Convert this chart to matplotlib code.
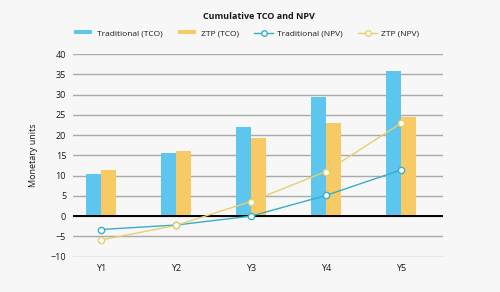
import numpy as np
import matplotlib.pyplot as plt
from matplotlib.lines import Line2D
from matplotlib.patches import Patch

plt.rcParams["font.family"] = ["Open Sans", "DejaVu Sans"]

years = ["Y1", "Y2", "Y3", "Y4", "Y5"]
trad_tco = [10.5, 15.5, 21.9, 29.3, 35.7]
ztp_tco = [11.5, 16.0, 19.3, 22.9, 24.5]
trad_npv = [-3.3, -2.2, 0.0, 5.1, 11.4]
ztp_npv = [-5.9, -2.3, 3.6, 11.0, 22.9]

BLUE = "#5cc6ee"
ORANGE = "#f8ca66"
TEAL = "#3aaec4"
YELLOW = "#e6d06e"
BG = "#f7f7f7"

fig = plt.figure(figsize=(5, 2.92), dpi=100, facecolor=BG)
ax = fig.add_axes([0.146, 0.121, 0.74, 0.694], facecolor=BG)

x = np.arange(len(years))
w = 0.2
ax.bar(x - w / 2, trad_tco, width=w, color=BLUE, zorder=2)
ax.bar(x + w / 2, ztp_tco, width=w, color=ORANGE, zorder=2)

ax.plot(x, trad_npv, color=TEAL, linewidth=1.0, marker="o", markersize=4.5,
        markerfacecolor="white", markeredgewidth=1.0, zorder=4)
ax.plot(x, ztp_npv, color=YELLOW, linewidth=1.0, marker="o", markersize=4.5,
        markerfacecolor="white", markeredgewidth=1.0, zorder=4)

ax.set_ylim(-10, 40)
ax.set_yticks(np.arange(-10, 41, 5))
ax.set_xlim(-0.37, 4.56)
ax.set_xticks(x)
ax.set_xticklabels(years)
ax.grid(axis="y", color="#aaaaaa", linewidth=1.0, zorder=0)
ax.axhline(0, color="black", linewidth=1.4, zorder=3)
for s in ax.spines.values():
    s.set_visible(False)
ax.tick_params(length=0, labelsize=6.5, pad=5, colors="#1a1a1a")
ax.set_ylabel("Monetary units", fontsize=6.5, color="#1a1a1a", labelpad=9)

fig.text(0.518, 0.945, "Cumulative TCO and NPV", ha="center", va="center",
         fontsize=6.5, fontweight="bold", color="#1a1a1a")

handles = [
    Patch(facecolor=BLUE, edgecolor="none"),
    Patch(facecolor=ORANGE, edgecolor="none"),
    Line2D([], [], color=TEAL, linewidth=1.0, marker="o", markersize=4,
           markerfacecolor="white"),
    Line2D([], [], color=YELLOW, linewidth=1.0, marker="o", markersize=4,
           markerfacecolor="white"),
]
labels = ["Traditional (TCO)", "ZTP (TCO)", "Traditional (NPV)", "ZTP (NPV)"]
fig.legend(handles, labels, loc="center", bbox_to_anchor=(0.493, 0.885), ncol=4,
           frameon=False, fontsize=6, handlelength=2.2, handleheight=0.45,
           columnspacing=1.9, handletextpad=0.5, labelcolor="#1a1a1a")

fig.savefig("out.png", dpi=100, facecolor=BG)
